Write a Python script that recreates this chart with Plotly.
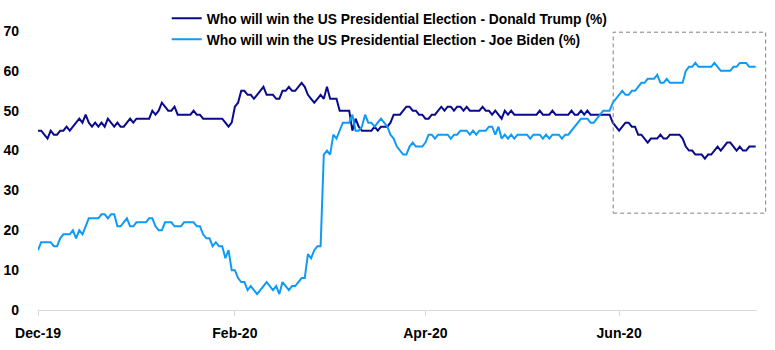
import pandas as pd
import plotly.graph_objects as go

start_date = "2019-12-01"

trump = [
    45, 45, 44, 43, 45, 44, 44, 45, 45, 46,
    45, 46, 47, 48, 47, 49, 47, 46, 47, 46,
    47, 46, 48, 47, 46, 47, 46, 46, 47, 48,
    47, 48, 48, 48, 48, 48, 50, 49, 50, 52,
    51, 50, 50, 51, 49, 49, 49, 49, 49, 50,
    49, 49, 48, 48, 48, 48, 48, 48, 48, 47,
    46, 47, 51, 52, 55, 55, 54, 54, 53, 54,
    55, 56, 54, 54, 54, 53, 53, 55, 55, 56,
    55, 55, 56, 57, 56, 54, 53, 52, 53, 54,
    53, 56, 53, 53, 53, 50, 50, 50, 50, 45,
    48, 46, 45, 45, 45, 45, 46, 45, 46, 46,
    46, 47, 49, 49, 49, 50, 51, 51, 50, 50,
    49, 49, 48, 48, 49, 49, 50, 51, 50, 51,
    51, 50, 51, 51, 50, 51, 50, 50, 50, 50,
    51, 50, 50, 49, 50, 49, 48, 50, 49, 50,
    49, 49, 49, 49, 49, 49, 49, 49, 50, 49,
    49, 49, 50, 49, 49, 49, 49, 49, 50, 49,
    49, 50, 49, 50, 49, 49, 49, 49, 49, 49,
    49, 47, 46, 45, 46, 47, 47, 46, 46, 44,
    44, 43, 42, 43, 43, 43, 44, 43, 43, 44,
    44, 44, 44, 43, 41, 40, 40, 39, 39, 39,
    38, 39, 39, 40, 41, 40, 41, 42, 42, 41,
    40, 41, 40, 40, 41, 41, 41,
]

biden = [
    15, 17, 17, 17, 17, 16, 16, 18, 19, 19,
    19, 20, 18, 20, 19, 21, 23, 23, 23, 23,
    24, 24, 23, 24, 24, 21, 21, 22, 23, 21,
    21, 22, 22, 22, 22, 23, 23, 21, 20, 20,
    22, 22, 22, 21, 21, 21, 22, 22, 22, 22,
    21, 21, 19, 18, 18, 16, 17, 16, 16, 13,
    15, 10, 10, 8, 7, 7, 5, 6, 5, 4,
    5, 6, 7, 6, 5, 6, 4, 7, 6, 5,
    6, 6, 7, 8, 8, 14, 13, 15, 16, 16,
    39, 40, 39, 44, 43, 45, 47, 47, 47, 49,
    45, 45, 46, 49, 47, 47, 46, 47, 48, 47,
    46, 44, 43, 41, 40, 39, 39, 41, 42, 41,
    41, 41, 42, 44, 44, 43, 44, 44, 44, 44,
    43, 44, 44, 45, 45, 45, 44, 45, 44, 45,
    45, 45, 46, 46, 44, 46, 43, 44, 43, 44,
    43, 44, 44, 44, 44, 43, 44, 44, 44, 43,
    44, 43, 44, 44, 44, 43, 44, 44, 45, 46,
    47, 48, 48, 48, 47, 47, 48, 49, 50, 50,
    50, 52, 53, 54, 55, 54, 54, 55, 55, 56,
    57, 57, 58, 58, 58, 59, 57, 57, 58, 57,
    57, 57, 57, 57, 60, 61, 61, 62, 61, 61,
    61, 61, 61, 62, 61, 60, 60, 60, 60, 61,
    61, 62, 62, 62, 61, 61, 61,
]

series_names = [
    "Who will win the US Presidential Election - Donald Trump (%)",
    "Who will win the US Presidential Election - Joe Biden (%)",
]
tick_dates = ["2019-12-01", "2020-02-01", "2020-04-01", "2020-06-01"]
tick_labels = ["Dec-19", "Feb-20", "Apr-20", "Jun-20"]

dates = pd.date_range(start_date, periods=len(trump), freq="D")

fig = go.Figure()
fig.add_trace(go.Scatter(x=dates, y=trump, mode="lines", name=series_names[0],
                         legendgroup="a",
                         line=dict(color="#0a0a8f", width=2)))
fig.add_trace(go.Scatter(x=dates, y=biden, mode="lines", name=series_names[1],
                         legendgroup="b",
                         line=dict(color="#0f9bf5", width=2)))

fig.add_shape(type="rect", xref="paper", yref="y",
              x0=0.800, x1=1.012, y0=24.3, y1=69.7,
              line=dict(color="#808080", width=1, dash="4px,3px"),
              fillcolor="rgba(0,0,0,0)", layer="above")

tickfont = dict(family="Liberation Sans", size=14, color="#000000", weight="bold")

fig.update_layout(
    width=775, height=350,
    margin=dict(l=38, r=18, t=31, b=40, autoexpand=False),
    paper_bgcolor="white", plot_bgcolor="white",
    showlegend=True,
    legend=dict(x=0.179, y=1.101, xanchor="left", yanchor="top",
                bgcolor="rgba(0,0,0,0)", tracegroupgap=0,
                font=dict(family="Liberation Sans", size=13.8, color="#000000", weight="bold"),
                itemwidth=30),
    xaxis=dict(type="date", range=["2019-12-01", "2020-07-14 10:00"],
               tickvals=tick_dates, ticktext=tick_labels,
               showgrid=False, zeroline=False, automargin=False,
               showline=True, linecolor="#d9d9d9", linewidth=1,
               ticks="outside", ticklen=5, tickcolor="#d9d9d9",
               ticklabelstandoff=5,
               tickfont=tickfont),
    yaxis=dict(range=[0, 70], dtick=10, showgrid=False, zeroline=False,
               automargin=False,
               showline=False, ticks="", ticklabelstandoff=18,
               tickfont=tickfont),
)

fig.write_html("out.html")
